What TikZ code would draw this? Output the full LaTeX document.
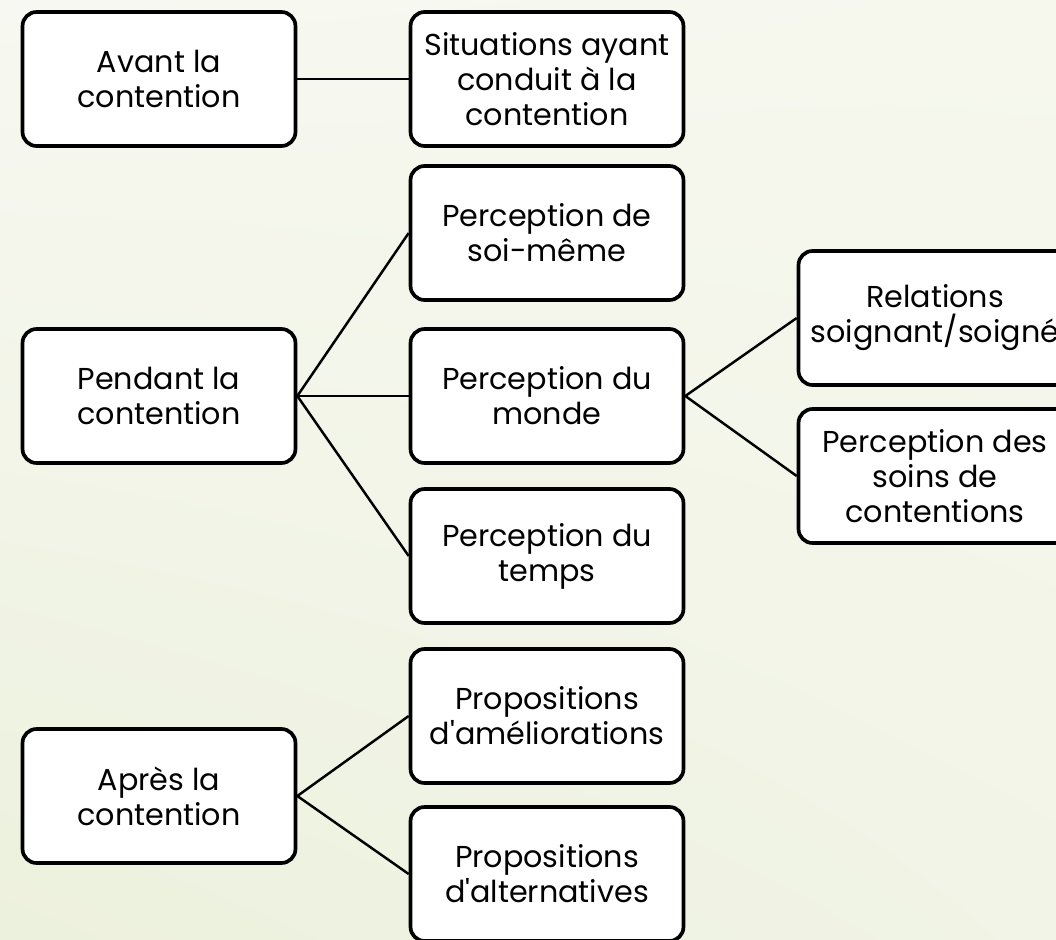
\documentclass[tikz,border=0pt]{standalone}
\usepackage{fontspec}
\setmainfont{Poppins}
\usepackage{tikz}
\usetikzlibrary{positioning,shadings}
\definecolor{bgul}{HTML}{F7F8F1}
\definecolor{bgur}{HTML}{F6F8EE}
\definecolor{bgll}{HTML}{ECF1DD}
\definecolor{bglr}{HTML}{F1F4E6}

\begin{document}
\begin{tikzpicture}[x=0.02cm,y=-0.02cm,
  box/.style={draw=black,line width=2.1pt,rounded corners=8pt,fill=white,
    minimum width=5.46cm,minimum height=2.68cm,inner sep=2pt,align=center,
    font=\fontsize{17.2}{20}\selectfont},
  link/.style={line width=1.4pt}]
\useasboundingbox (0,0) rectangle (1056,940);
\clip (0,0) rectangle (1056,940);
\shade[upper left=bgul,upper right=bgur,lower left=bgll,lower right=bglr] (0,0) rectangle (1056,940);
% first column
\node[box] (avant) at (159,79) {Avant la\\contention};
\node[box] (pendant) at (159,396) {Pendant la\\contention};
\node[box] (apres) at (159,796) {Après la\\contention};
% second column
\node[box] (situ) at (547,79) {Situations ayant\\conduit à la\\contention};
\node[box] (soi) at (547,233) {Perception de\\soi-même};
\node[box] (monde) at (547,396) {Perception du\\monde};
\node[box] (temps) at (547,556) {Perception du\\temps};
\node[box] (amelio) at (547,716) {Propositions\\d\textquotesingle améliorations};
\node[box] (altern) at (547,874) {Propositions\\d\textquotesingle alternatives};
% third column
\node[box] (relat) at (935,318) {Relations\\soignant/soigné};
\node[box] (soins) at (935,476) {Perception des\\soins de\\contentions};
% links
\draw[link] (avant.east) -- (situ.west);
\foreach \t in {soi,monde,temps}
  \draw[link] (pendant.east) -- (\t.west);
\foreach \t in {relat,soins}
  \draw[link] (monde.east) -- (\t.west);
\foreach \t in {amelio,altern}
  \draw[link] (apres.east) -- (\t.west);
\end{tikzpicture}
\end{document}
